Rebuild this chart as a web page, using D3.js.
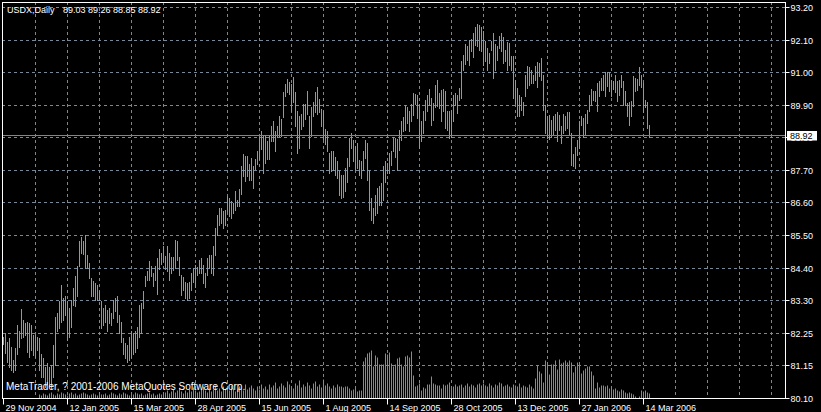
<!DOCTYPE html>
<html><head><meta charset="utf-8">
<script src="https://cdn.jsdelivr.net/npm/d3@7/dist/d3.min.js"></script>
<style>
html,body{margin:0;padding:0;background:#000;overflow:hidden}
svg{display:block}
text{font-family:"Liberation Sans",Arial,sans-serif;font-size:9px}
</style>
</head><body>
<svg id="chart" width="821" height="412"></svg>
<script>
const symbolName = "USDX,Daily";
const lastOHLC = ["89.03", "89.26", "88.85", "88.92"];
const lastPrice = 88.92;
const copyrightText = "MetaTrader, ? 2001-2006 MetaQuotes Software Corp.";

const highs = [
82.16,82.27,81.99,82.10,81.82,81.37,81.76,82.55,82.33,83.08,82.72,82.61,82.66,82.61,82.55,82.21,82.21,82.16,82.10,81.59,
81.43,81.14,81.26,81.14,81.20,81.88,82.83,82.95,83.34,83.90,83.45,83.51,83.34,83.11,83.40,83.79,84.18,84.52,85.37,85.48,
85.37,85.56,84.88,84.63,84.13,84.01,83.96,83.90,83.68,83.34,83.11,83.23,83.06,83.11,82.95,83.40,83.45,83.51,82.89,82.66,
82.10,81.93,81.88,82.16,82.33,82.27,82.33,82.49,83.23,83.28,83.68,84.18,84.35,84.69,84.52,84.30,84.52,84.80,85.09,84.97,
85.20,84.86,85.18,84.95,84.84,84.84,85.40,85.35,84.84,84.22,84.17,84.00,83.94,84.00,84.28,84.45,84.56,84.50,84.73,84.78,
84.56,84.28,84.78,84.90,84.90,85.18,85.80,86.24,86.47,86.47,86.36,86.41,86.86,86.81,86.69,86.64,87.03,86.75,87.09,87.87,
88.27,88.21,88.21,87.93,88.15,87.87,88.10,88.38,88.83,89.05,88.88,88.88,88.71,88.88,89.22,89.39,89.05,89.22,89.56,89.45,
90.34,90.62,90.79,90.68,90.62,90.85,90.34,89.73,89.56,89.61,89.95,89.95,90.40,89.56,89.84,90.01,90.34,90.51,90.12,89.78,
89.73,89.11,89.05,88.31,88.38,88.38,88.19,88.05,87.69,87.58,87.58,87.80,88.14,88.81,88.98,88.75,88.53,88.64,88.08,88.03,
88.38,88.75,88.64,87.75,86.80,86.46,86.91,87.13,87.19,87.30,87.86,88.03,87.97,88.31,88.38,88.86,88.81,88.77,89.09,89.37,
89.53,89.90,89.84,89.70,89.95,90.32,90.29,90.26,89.93,89.39,89.70,90.10,90.24,90.46,90.15,89.98,90.60,90.77,90.32,90.43,
90.46,90.40,89.70,89.73,89.76,90.24,90.32,90.24,90.49,91.40,91.60,91.96,91.88,92.11,92.14,92.33,92.52,92.63,92.61,92.52,
92.39,92.05,91.83,91.66,92.07,92.33,91.96,91.88,92.22,92.33,92.19,91.77,92.03,92.00,91.55,91.55,90.77,90.49,90.26,90.17,
90.02,90.93,91.21,91.18,91.10,90.93,91.21,91.36,91.33,91.49,90.93,89.90,89.54,89.59,89.42,89.54,89.61,89.68,89.59,89.20,
89.61,89.56,89.68,89.68,88.98,88.27,88.50,88.75,89.39,89.54,89.48,89.61,89.76,90.26,90.46,90.40,90.37,90.65,90.71,90.82,
90.93,91.02,91.02,91.02,90.77,90.73,90.93,90.73,90.77,90.93,90.73,90.40,89.98,90.02,90.06,90.88,90.82,90.80,91.18,90.91,
90.65,90.10,90.02,89.26];

const lows = [
81.90,81.62,81.31,81.14,81.03,80.97,81.03,81.59,81.82,82.10,82.16,82.21,81.65,81.48,81.71,81.54,81.48,81.71,81.03,80.81,
80.81,80.47,80.58,80.52,80.41,80.81,81.20,82.33,82.44,82.66,82.72,82.89,82.04,82.16,82.49,83.23,83.17,83.51,84.52,84.97,
84.92,84.47,84.47,84.13,83.51,83.51,83.40,83.40,83.40,82.44,82.55,82.66,82.33,82.61,82.55,82.78,83.00,82.66,82.27,81.99,
81.59,81.43,81.31,81.37,81.48,81.59,81.65,81.76,82.16,82.27,83.11,83.85,84.07,84.07,84.18,83.85,84.07,83.57,84.41,84.58,
84.69,84.41,84.34,84.05,84.28,84.39,84.45,84.73,84.22,83.55,83.72,83.44,83.38,83.44,83.72,84.00,83.83,84.22,84.28,84.28,
83.94,83.83,84.22,84.45,84.28,84.22,84.90,85.57,85.91,85.96,85.80,85.91,86.36,86.19,86.13,86.30,86.41,86.52,86.52,86.92,
87.54,87.37,87.54,87.42,87.42,87.14,87.76,87.93,88.10,88.43,87.65,87.98,88.10,88.10,88.71,88.71,88.38,88.83,88.88,88.88,
89.50,90.23,90.34,90.29,89.73,90.01,89.22,88.32,88.49,89.11,89.22,89.44,89.61,88.49,88.88,89.56,89.67,89.61,89.67,89.22,
88.77,88.60,88.38,87.63,87.69,87.75,87.58,87.47,86.91,86.80,86.85,87.02,87.35,87.86,88.47,88.03,87.75,87.80,87.58,87.47,
87.75,88.14,87.41,86.40,86.07,85.96,86.24,86.29,86.57,86.57,86.74,87.35,87.63,87.63,87.91,88.36,88.19,87.75,88.42,88.75,
89.03,89.09,89.31,89.03,89.39,89.59,89.95,89.48,88.47,88.70,88.98,89.42,89.70,89.93,89.26,89.42,89.84,89.87,89.81,89.39,
89.70,89.14,89.09,88.81,88.86,89.39,89.93,89.65,90.10,90.15,91.10,91.29,91.44,91.27,91.72,91.52,91.94,91.88,91.77,91.72,
91.27,91.38,91.10,91.33,91.77,90.82,91.10,91.44,91.83,91.72,91.33,91.38,91.10,91.27,91.10,90.15,89.98,89.56,89.56,89.76,
89.59,90.21,90.49,90.60,90.65,90.65,90.77,90.51,90.88,90.77,89.76,88.98,88.81,88.79,88.83,88.92,89.09,88.72,89.09,88.64,
88.98,89.09,89.14,88.90,87.91,87.86,87.82,88.25,88.47,89.26,88.83,88.92,89.31,89.70,89.93,90.10,90.04,89.70,90.21,90.43,
90.43,90.21,90.54,90.40,90.21,90.46,90.35,90.06,90.24,90.51,89.93,89.90,89.54,89.26,89.54,89.87,90.40,90.43,90.60,90.51,
89.68,89.84,89.14,88.85];

const volumes = [
0,0,0,0,0,0,0,0,0,0,0,0,0,0,0,0,0,0,
400,300,500,400,300,500,600,400,300,500,400,600,500,400,300,500,600,400,500,300,400,500,600,500,400,300,400,500,400,300,500,400,
400,500,300,400,600,500,400,300,500,400,600,500,400,300,500,400,600,500,400,500,300,400,500,600,400,500,300,400,500,400,600,
600,800,500,700,900,600,800,1000,700,500,800,600,900,700,1100,800,600,700,900,1200,800,600,1000,700,900,1300,800,1000,700,1200,900,1100,800,1300,1000,700,900,1200,1000,800,1400,900,1100,1300,1000,800,1200,900,1400,
1000,1200,900,1400,1100,1300,1600,1000,1200,1500,1300,1100,1700,1400,1200,1000,1500,1300,1800,1100,1400,1200,1600,1300,1000,1500,1700,1200,1400,1100,1900,1300,1500,1200,1000,1300,1100,1400,1200,
1200,1100,1200,1200,1000,800,900,1100,700,800,800,
3700,4100,4500,4600,4800,3200,4300,4100,3400,3400,3400,4500,4400,4600,3500,3200,3400,4000,4100,3400,3200,4200,4300,4100,4700,
2300,1200,1300,1500,800,1100,1000,1400,1400,2200,1500,1400,1300,1300,1000,1400,1300,1400,1600,1200,1200,1400,1200,1300,1400,1100,1300,1500,1200,1400,1300,1100,1400,1500,1300,1500,1300,1200,1500,1300,1100,1400,1300,1600,1500,1200,1300,1400,1200,1100,1400,1300,1200,1500,1100,1300,1200,1100,1400,1200,1000,
2000,3300,2700,2500,1600,3800,3600,2400,3400,3400,3800,2900,3900,3500,3600,3800,3600,3800,3600,2600,3200,3600,3500,2500,2800,3000,3200,3200,2700,2300,1000,
1600,1100,1300,1300,1200,1300,1000,1200,900,1000,800,700,900,800,600,500,600,500,400,200,0,200,800,700,800,600,500];

const priceTickLabels = ["93.20","92.10","91.00","89.90","88.80","87.70","86.60","85.50","84.40","83.30","82.25","81.15","80.10"];
const dateLabels = ["29 Nov 2004","12 Jan 2005","15 Mar 2005","28 Apr 2005","15 Jun 2005","1 Aug 2005","14 Sep 2005","28 Oct 2005","13 Dec 2005","27 Jan 2006","14 Mar 2006"];
const dateLabelBars = [0,32,64,96,128,160,192,224,256,288,320];

const priceMin = 80.10, priceMax = 93.20;
const W = 821, H = 412;
const plotL = 2, plotR = 785, plotT = 2, plotB = 398;
const gridColor = "#778899";
const barColor = "#33dd33";
const volColor = "#3fbf3f";

const svg = d3.select("#chart");
svg.append("rect").attr("width", W).attr("height", H).attr("fill", "#000");

const x = d3.scaleLinear().domain([0, 1]).range([3, 5]);   // 2 px per bar
const y = d3.scaleLinear().domain([priceMin, priceMax]).range([398, 7]);
const vy = d3.scaleLinear().domain([0, 5000]).range([0, 50]);
const px = v => Math.round(v) + 0.5;

// grid
const gStep = (priceMax - priceMin) / (priceTickLabels.length - 1);
const priceTicks = priceTickLabels.map((_, k) => priceMax - k * gStep);
const grid = svg.append("g").attr("stroke", gridColor).attr("stroke-width", 1).attr("stroke-dasharray", "3,3").attr("fill", "none");
priceTicks.forEach(v => {
  grid.append("line").attr("x1", plotL).attr("x2", plotR).attr("y1", px(y(v))).attr("y2", px(y(v)));
});
for (let b = 16; x(b) < plotR; b += 16) {
  grid.append("line").attr("x1", px(x(b))).attr("x2", px(x(b))).attr("y1", plotT).attr("y2", plotB);
}

// volumes
svg.append("g").selectAll("line").data(volumes).join("line")
  .attr("x1", (d, i) => px(x(i))).attr("x2", (d, i) => px(x(i)))
  .attr("y1", plotB + 0.5).attr("y2", d => plotB + 0.5 - Math.round(vy(d)))
  .attr("stroke", volColor).attr("stroke-width", 1)
  .attr("display", d => d > 0 ? null : "none");

// price bars (high-low)
svg.append("g").selectAll("line").data(highs).join("line")
  .attr("x1", (d, i) => px(x(i))).attr("x2", (d, i) => px(x(i)))
  .attr("y1", d => Math.round(y(d))).attr("y2", (d, i) => Math.round(y(lows[i])) + 1)
  .attr("stroke", barColor).attr("stroke-width", 1);

// last price line
svg.append("line").attr("x1", plotL).attr("x2", plotR)
  .attr("y1", px(y(lastPrice))).attr("y2", px(y(lastPrice)))
  .attr("stroke", gridColor).attr("stroke-width", 1);

// border
svg.append("rect").attr("x", plotL + 0.5).attr("y", plotT + 0.5)
  .attr("width", plotR - plotL).attr("height", plotB - plotT)
  .attr("fill", "none").attr("stroke", "#fff").attr("stroke-width", 1);

// price axis
const yAxis = d3.axisRight(y).tickValues(priceTicks)
  .tickFormat((d, i) => priceTickLabels[i]).tickSize(4).tickPadding(2);
const ya = svg.append("g").attr("transform", `translate(${plotR + 0.5},0)`).call(yAxis);
ya.select(".domain").remove();
ya.selectAll(".tick").attr("transform", d => `translate(0,${px(y(d))})`);
ya.selectAll(".tick line").attr("stroke", "#fff");
ya.selectAll(".tick text").attr("fill", "#fff").attr("x", 5).attr("dy", "0.34em")
  .style("font-family", "Liberation Sans, Arial, sans-serif").style("font-size", "9px");

// last price label (covers most of the grid label just below it, as in MetaTrader)
const ly = px(y(lastPrice));
svg.append("rect").attr("x", 787).attr("y", ly - 4.5).attr("width", 30).attr("height", 9.5).attr("fill", "#fff");
svg.append("text").attr("x", 790).attr("y", ly).attr("dy", "0.34em").attr("fill", "#000").text(lastPrice.toFixed(2));

// date axis
const xAxis = d3.axisBottom(x).tickValues(dateLabelBars)
  .tickFormat((d, i) => dateLabels[i]).tickSize(6).tickPadding(1);
const xa = svg.append("g").attr("transform", `translate(0,${plotB + 0.5})`).call(xAxis);
xa.select(".domain").remove();
xa.selectAll(".tick").attr("transform", d => `translate(${px(x(d))},0)`);
xa.selectAll(".tick line").attr("stroke", "#fff");
xa.selectAll(".tick text").attr("fill", "#fff")
  .style("font-family", "Liberation Sans, Arial, sans-serif").style("font-size", "9px")
  .attr("text-anchor", "start").attr("x", 2).attr("y", 0).attr("dy", 0).attr("transform", "translate(0,12)");

// title & copyright
svg.append("text").attr("x", 7).attr("y", 13).attr("fill", "#fff").text(symbolName);
svg.append("text").attr("x", 63).attr("y", 13).attr("fill", "#fff").text(lastOHLC.join(" "));
svg.append("text").attr("x", 6).attr("y", 390).attr("fill", "#fff").style("font-size", "10px").text(copyrightText);
</script>
</body></html>
